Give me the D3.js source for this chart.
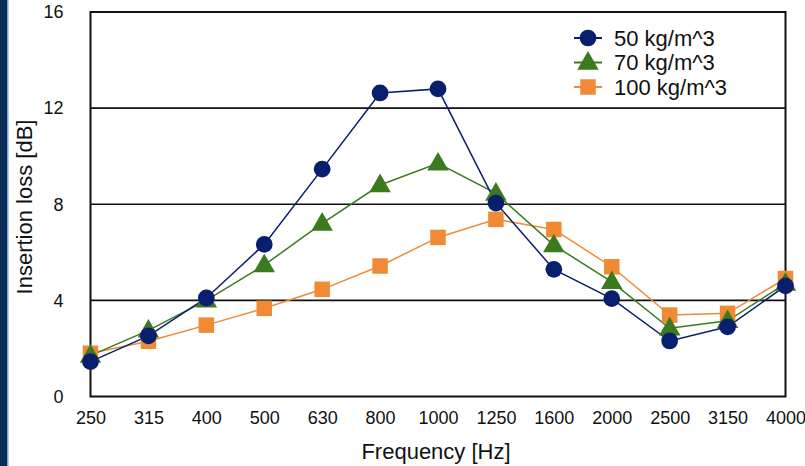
<!DOCTYPE html>
<html><head><meta charset="utf-8">
<script src="https://cdn.jsdelivr.net/npm/d3@7"></script>
<style>html,body{margin:0;padding:0;background:#fff;}svg{display:block;}</style>
</head><body>
<svg id="chart" width="805" height="466"></svg>
<script>
const categories = ["250","315","400","500","630","800","1000","1250","1600","2000","2500","3150","4000"];
const s50  = [1.45, 2.52, 4.1, 6.33, 9.46, 12.63, 12.8, 8.05, 5.29, 4.07, 2.31, 2.9, 4.6];
const s70  = [1.7, 2.75, 4.0, 5.47, 7.2, 8.8, 9.7, 8.45, 6.3, 4.77, 2.84, 3.15, 4.7];
const s100 = [1.8, 2.3, 2.97, 3.67, 4.46, 5.43, 6.62, 7.37, 6.95, 5.4, 3.39, 3.46, 4.91];
const yTicks = [0, 4, 8, 12, 16];
const seriesNames = ["50 kg/m^3", "70 kg/m^3", "100 kg/m^3"];

const series = [
  {name: seriesNames[0], values: s50, color: "#0a1e6e", shape: d3.symbolCircle},
  {name: seriesNames[1], values: s70, color: "#3b7a1f", shape: d3.symbolTriangle},
  {name: seriesNames[2], values: s100, color: "#f08a35", shape: d3.symbolSquare}
];

const svg = d3.select("#chart");
const L = 90.5, R = 785.5, T = 12, B = 396.5;
const x = d3.scalePoint().domain(categories).range([L, R]).padding(0);
const y = d3.scaleLinear().domain([0, 16]).range([B, T]);
const font = "'Liberation Sans', Arial, Helvetica, sans-serif";

// left dark strip
svg.append("rect").attr("x", 0).attr("y", 0).attr("width", 7).attr("height", 466).attr("fill", "#0b2b57");
svg.append("rect").attr("x", 7).attr("y", 0).attr("width", 1.5).attr("height", 466).attr("fill", "#7aa2c8");

// gridlines
svg.append("g").selectAll("line").data(yTicks.filter(d => d > 0 && d < 16)).join("line")
  .attr("x1", L).attr("x2", R).attr("y1", d => y(d)).attr("y2", d => y(d))
  .attr("stroke", "#111").attr("stroke-width", 1.6);

// frame
svg.append("rect").attr("x", L).attr("y", T).attr("width", R - L).attr("height", B - T)
  .attr("fill", "none").attr("stroke", "#111").attr("stroke-width", 2);

// y axis
const yAxis = d3.axisLeft(y).tickValues(yTicks).tickSize(0).tickPadding(27);
const gy = svg.append("g").attr("transform", `translate(${L},0)`).call(yAxis);
gy.select(".domain").remove();
gy.selectAll("text").attr("font-family", font).attr("font-size", 18).attr("fill", "#111");

// x axis
const xAxis = d3.axisBottom(x).tickSize(0).tickPadding(15);
const gx = svg.append("g").attr("transform", `translate(0,${B})`).call(xAxis);
gx.select(".domain").remove();
gx.selectAll("text").attr("font-family", font).attr("font-size", 18).attr("fill", "#111");

// titles
svg.append("text").attr("x", 436).attr("y", 459).attr("text-anchor", "middle")
  .attr("font-family", font).attr("font-size", 22).attr("fill", "#111").text("Frequency [Hz]");
svg.append("text").attr("transform", "translate(32,207) rotate(-90)").attr("text-anchor", "middle")
  .attr("font-family", font).attr("font-size", 22).attr("fill", "#111").text("Insertion loss [dB]");

// lines & markers
const line = d3.line().x((d, i) => x(categories[i])).y(d => y(d));
const sizes = {0: 220, 1: 200, 2: 240};
[2, 1, 0].forEach(k => {
  const s = series[k];
  svg.append("path").datum(s.values).attr("d", line).attr("fill", "none")
    .attr("stroke", s.color).attr("stroke-width", 1.5);
});
[2, 1, 0].forEach(k => {
  const s = series[k];
  svg.append("g").selectAll("path").data(s.values).join("path")
    .attr("d", d3.symbol().type(s.shape).size(sizes[k]))
    .attr("transform", (d, i) => `translate(${x(categories[i])},${y(d) + (k === 1 ? 1 : 0)})`)
    .attr("fill", s.color);
});

// legend
const lg = svg.append("g");
series.forEach((s, i) => {
  const cy = 38 + i * 24.5;
  lg.append("line").attr("x1", 574).attr("x2", 602).attr("y1", cy).attr("y2", cy)
    .attr("stroke", s.color).attr("stroke-width", 2);
  lg.append("path").attr("d", d3.symbol().type(s.shape).size(sizes[i]))
    .attr("transform", `translate(588,${cy + (i === 1 ? 1 : 0)})`).attr("fill", s.color);
  lg.append("text").attr("x", 614).attr("y", cy).attr("dy", "0.35em")
    .attr("font-family", font).attr("font-size", 22).attr("fill", "#111").text(s.name);
});
</script>
</body></html>
